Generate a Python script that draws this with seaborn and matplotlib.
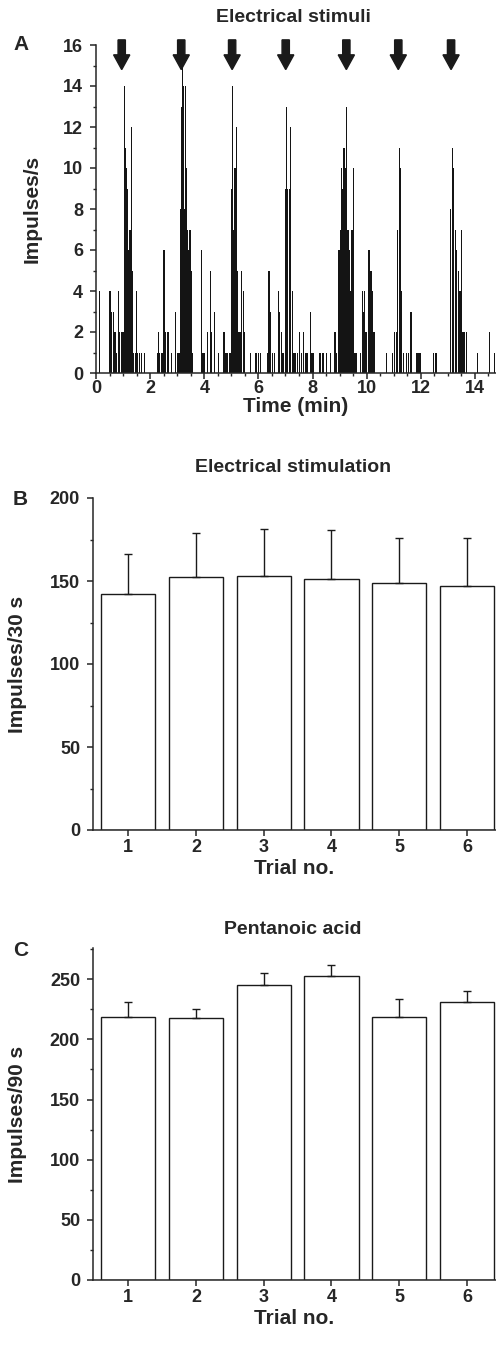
import numpy as np
import pandas as pd
import matplotlib
matplotlib.use("Agg")
import matplotlib.pyplot as plt
from matplotlib.ticker import MultipleLocator
import seaborn as sns

# ---------------- data ----------------
# Panel A: firing rate histogram (time in min, impulses/s)
spike_times = [
    0.13, 0.52, 0.58, 0.64, 0.70, 0.76, 0.82, 0.88, 0.94, 1.00,
    1.04, 1.08, 1.12, 1.16, 1.20, 1.24, 1.28, 1.32, 1.36, 1.40,
    1.45, 1.49, 1.54, 1.62, 1.69, 1.79,
    2.27, 2.31, 2.36, 2.44, 2.51, 2.58, 2.66, 2.79, 2.93, 3.03,
    3.07, 3.11, 3.15, 3.19, 3.23, 3.27, 3.31, 3.35, 3.39, 3.43,
    3.47, 3.51, 3.55, 3.90, 3.95, 4.00,
    4.13, 4.22, 4.28, 4.37, 4.53, 4.73, 4.80, 4.87, 4.95, 5.01,
    5.05, 5.10, 5.14, 5.19, 5.23, 5.28, 5.33, 5.39, 5.44, 5.49,
    5.70, 5.91, 6.00, 6.09,
    6.33, 6.39, 6.45, 6.51, 6.60, 6.73, 6.78, 6.85, 6.91, 6.99,
    7.04, 7.09, 7.14, 7.20, 7.25, 7.30, 7.35, 7.44, 7.51, 7.58,
    7.68, 7.75, 7.80, 7.93, 7.98, 8.05, 8.28, 8.36,
    8.41, 8.53, 8.66, 8.83, 8.88, 8.98, 9.02, 9.07, 9.11, 9.16,
    9.21, 9.26, 9.31, 9.36, 9.41, 9.46, 9.51, 9.56, 9.61, 9.78,
    9.84, 9.89, 9.93, 9.98, 10.06, 10.11, 10.16, 10.22, 10.27,
    10.74, 10.96, 11.04, 11.09, 11.14, 11.20, 11.25, 11.30, 11.35,
    11.48, 11.54, 11.64, 11.85, 11.90, 11.97, 12.47, 12.56,
    13.10, 13.16, 13.22, 13.28, 13.33, 13.39, 13.45, 13.51, 13.56,
    13.63, 13.70, 14.10, 14.55, 14.72,
]
spike_rates = [
    4, 4, 3, 3, 2, 1, 4, 2, 2, 2,
    14, 11, 10, 9, 6, 7, 7, 12, 5, 1,
    1, 4, 1, 1, 1, 1,
    1, 2, 1, 1, 6, 2, 2, 1, 3, 1,
    1, 8, 13, 15, 14, 8, 14, 10, 7, 6,
    7, 5, 1, 6, 1, 1,
    2, 5, 2, 3, 1, 2, 1, 1, 1, 9,
    14, 7, 10, 12, 5, 2, 2, 5, 4, 2,
    1, 1, 1, 1,
    1, 5, 3, 1, 1, 4, 3, 2, 1, 9,
    13, 9, 9, 12, 4, 1, 1, 1, 2, 1,
    2, 1, 1, 3, 1, 1, 1, 1,
    1, 1, 1, 2, 1, 6, 7, 10, 9, 11,
    10, 13, 7, 6, 4, 7, 10, 1, 1, 1,
    4, 3, 4, 2, 6, 6, 5, 4, 2,
    1, 1, 2, 2, 7, 11, 10, 4, 1,
    1, 1, 3, 1, 1, 1, 1, 1,
    8, 11, 10, 7, 6, 5, 4, 7, 2,
    2, 2, 1, 2, 1,
]
stimulus_times = [0.95, 3.15, 5.03, 7.01, 9.25, 11.17, 13.12]

# Panel B: electrical stimulation
trials = ["1", "2", "3", "4", "5", "6"]
elec_mean = [142, 152.5, 153, 151.5, 149, 147]
elec_err = [24, 26.5, 28.5, 29.5, 27, 29]

# Panel C: pentanoic acid
pent_mean = [219, 217.5, 245, 252.5, 219, 231]
pent_err = [12.5, 8, 10.5, 9.5, 14.5, 9]

# ---------------- style ----------------
sns.set_style("ticks")
plt.rcParams["font.family"] = ["Liberation Sans", "DejaVu Sans"]
plt.rcParams["font.weight"] = "bold"
plt.rcParams["axes.labelweight"] = "bold"
plt.rcParams["axes.titleweight"] = "bold"
plt.rcParams["axes.linewidth"] = 1.1
plt.rcParams["xtick.major.width"] = 1.1
plt.rcParams["ytick.major.width"] = 1.1
plt.rcParams["xtick.minor.width"] = 1.0
plt.rcParams["ytick.minor.width"] = 1.0
plt.rcParams["xtick.major.size"] = 4.3
plt.rcParams["ytick.major.size"] = 4.3
plt.rcParams["xtick.minor.size"] = 2.2
plt.rcParams["ytick.minor.size"] = 2.2
plt.rcParams["xtick.direction"] = "out"
plt.rcParams["ytick.direction"] = "out"

W, H = 496, 1347
fig = plt.figure(figsize=(W / 100, H / 100), dpi=100)

def frac_axes(left_px, top_px, right_px, bottom_px):
    return fig.add_axes([left_px / W, 1 - bottom_px / H,
                         (right_px - left_px) / W, (bottom_px - top_px) / H])

def px_text(x_px, y_px, s, size, ha="center", **kw):
    fig.text(x_px / W, 1 - y_px / H, s, fontsize=size, fontweight="bold",
             ha=ha, va="center", **kw)

TICK_FS = 13
LABEL_FS = 15
TITLE_FS = 14
LETTER_FS = 15

# ---------------- Panel A ----------------
A_LEFT, A_RIGHT = 96, 496
axA = frac_axes(A_LEFT, 45, A_RIGHT, 373)
axA.bar(spike_times, spike_rates, width=0.045, color="#141414",
        edgecolor="none", align="center")
axA.set_xlim(0, 14.78)
axA.set_ylim(0, 16)
axA.xaxis.set_major_locator(MultipleLocator(2))
axA.xaxis.set_minor_locator(MultipleLocator(0.5))
axA.yaxis.set_major_locator(MultipleLocator(2))
axA.yaxis.set_minor_locator(MultipleLocator(1))
axA.tick_params(labelsize=TICK_FS)
axA.tick_params(axis="x", pad=1)
axA.tick_params(axis="y", pad=5)
axA.set_xlabel("Time (min)", fontsize=LABEL_FS, labelpad=0)
axA.set_ylabel("Impulses/s", fontsize=LABEL_FS)
axA.yaxis.set_label_coords((42 - A_LEFT) / (A_RIGHT - A_LEFT), 0.5)
sns.despine(ax=axA)
for t in stimulus_times:
    axA.arrow(t, 16.25, 0, -1.45, width=0.27, head_width=0.6,
              head_length=0.72, length_includes_head=True,
              color="#1a1a1a", clip_on=False, zorder=5)
px_text(293, 17, "Electrical stimuli", TITLE_FS)
px_text(13, 45, "A", LETTER_FS, ha="left")

# ---------------- Panels B and C ----------------
def bar_panel(top_px, bottom_px, means, errs, ylim, title, title_y,
              ylabel, letter):
    left, right = 93, 496
    ax = frac_axes(left, top_px, right, bottom_px)
    df = pd.DataFrame({"Trial": trials, "Value": means})
    sns.barplot(data=df, x="Trial", y="Value", color="white",
                edgecolor="#1a1a1a", linewidth=1.0, width=0.8,
                errorbar=None, ax=ax)
    for p in ax.patches:
        p.set_facecolor("white")
    ax.errorbar(np.arange(len(means)), means,
                yerr=[np.zeros(len(errs)), errs], fmt="none",
                ecolor="#1a1a1a", elinewidth=1.0, capsize=2.7, capthick=1.0)
    ax.set_xlim(-0.52, 5.43)
    ax.set_ylim(*ylim)
    ax.yaxis.set_major_locator(MultipleLocator(50))
    ax.yaxis.set_minor_locator(MultipleLocator(25))
    ax.tick_params(labelsize=TICK_FS)
    ax.tick_params(axis="x", pad=2)
    ax.tick_params(axis="y", pad=5)
    ax.set_xlabel("Trial no.", fontsize=LABEL_FS, labelpad=2)
    ax.set_ylabel(ylabel, fontsize=LABEL_FS)
    ax.yaxis.set_label_coords((27 - left) / (right - left), 0.5)
    sns.despine(ax=ax)
    px_text(293, title_y, title, TITLE_FS)
    px_text(13, top_px + 2, letter, LETTER_FS, ha="left")
    return ax

bar_panel(498, 830, elec_mean, elec_err, (0, 200),
          "Electrical stimulation", 467, "Impulses/30 s", "B")
bar_panel(948, 1280, pent_mean, pent_err, (0, 276),
          "Pentanoic acid", 930, "Impulses/90 s", "C")

fig.savefig("out.png", dpi=100)
